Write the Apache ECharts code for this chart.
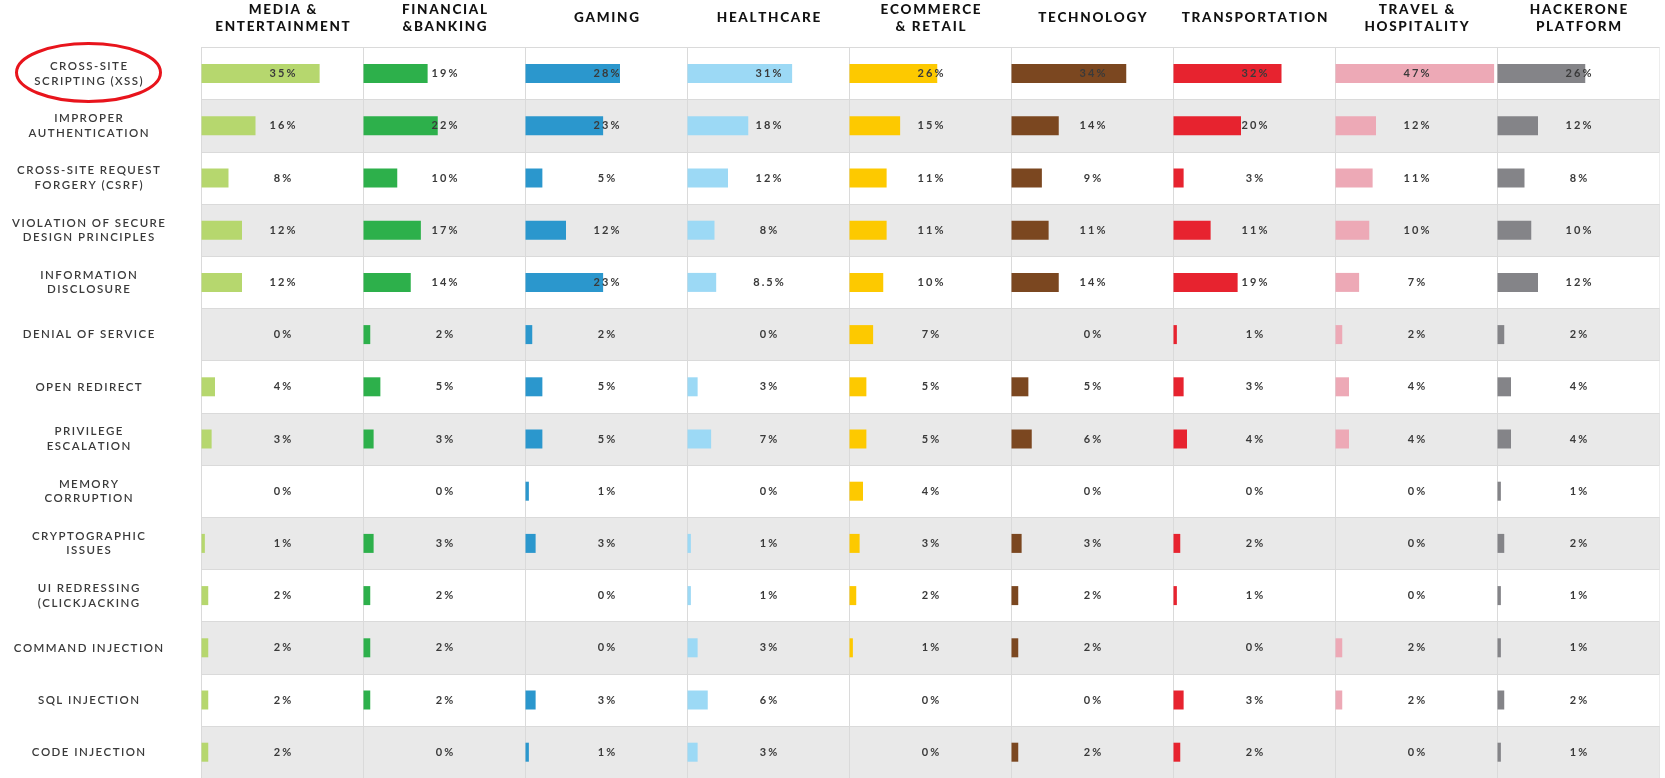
<!DOCTYPE html>
<html>
<head>
<meta charset="utf-8">
<script src="https://cdn.jsdelivr.net/npm/echarts@6/dist/echarts.min.js"></script>
<style>
  html, body { margin: 0; padding: 0; background: #fff; }
  #main { width: 1665px; height: 778px; }
</style>
</head>
<body>
<div id="main"></div>
<script>
// industries (columns) and vulnerability types (rows)
var industries = ['MEDIA &\nENTERTAINMENT', 'FINANCIAL\n&BANKING', 'GAMING', 'HEALTHCARE',
  'ECOMMERCE\n& RETAIL', 'TECHNOLOGY', 'TRANSPORTATION', 'TRAVEL &\nHOSPITALITY', 'HACKERONE\nPLATFORM'];
var vulns = ['CROSS-SITE\nSCRIPTING (XSS)', 'IMPROPER\nAUTHENTICATION', 'CROSS-SITE REQUEST\nFORGERY (CSRF)',
  'VIOLATION OF SECURE\nDESIGN PRINCIPLES', 'INFORMATION\nDISCLOSURE', 'DENIAL OF SERVICE', 'OPEN REDIRECT',
  'PRIVILEGE\nESCALATION', 'MEMORY\nCORRUPTION', 'CRYPTOGRAPHIC\nISSUES', 'UI REDRESSING\n(CLICKJACKING',
  'COMMAND INJECTION', 'SQL INJECTION', 'CODE INJECTION'];

// percent of reports per vulnerability type
var media      = [35, 16, 8, 12, 12, 0, 4, 3, 0, 1, 2, 2, 2, 2];
var financial  = [19, 22, 10, 17, 14, 2, 5, 3, 0, 3, 2, 2, 2, 0];
var gaming     = [28, 23, 5, 12, 23, 2, 5, 5, 1, 3, 0, 0, 3, 1];
var healthcare = [31, 18, 12, 8, 8.5, 0, 3, 7, 0, 1, 1, 3, 6, 3];
var ecommerce  = [26, 15, 11, 11, 10, 7, 5, 5, 4, 3, 2, 1, 0, 0];
var technology = [34, 14, 9, 11, 14, 0, 5, 6, 0, 3, 2, 2, 0, 2];
var transport  = [32, 20, 3, 11, 19, 1, 3, 4, 0, 2, 1, 0, 3, 2];
var travel     = [47, 12, 11, 10, 7, 2, 4, 4, 0, 0, 0, 2, 2, 0];
var hackerone  = [26, 12, 8, 10, 12, 2, 4, 4, 1, 2, 1, 1, 2, 1];

var columns = [media, financial, gaming, healthcare, ecommerce, technology, transport, travel, hackerone];
var colors = ['#b6d76e', '#2db04b', '#2b97cd', '#9cd9f5', '#fdc900', '#7b4720', '#e7232f', '#eda9b6', '#848488'];

var chart = echarts.init(document.getElementById('main'), null, { renderer: 'canvas' });

var left0 = 201.5, colW = 162, top0 = 47.5, rowH = 52.2;

// spread letters a bit like the original typography
function spaced(s, gap) {
  return s.split('\n').map(function (line) { return line.split('').join(gap || '\u2009'); }).join('\n');
}

var grid = [], xAxis = [], yAxis = [], series = [];
columns.forEach(function (vals, i) {
  grid.push({
    left: left0 + i * colW, top: top0, width: colW, height: rowH * vulns.length,
    outerBoundsMode: 'none',
    show: true, borderColor: '#dadada', borderWidth: 1, backgroundColor: 'transparent'
  });
  xAxis.push({
    type: 'value', gridIndex: i, min: 0, max: 48, position: 'top',
    name: spaced(industries[i]), nameLocation: 'middle', nameGap: 29.5,
    nameTextStyle: {
      fontFamily: 'Lato', fontWeight: 900, fontSize: 13.5, color: '#111',
      lineHeight: 16.5, align: 'center', verticalAlign: 'middle'
    },
    axisLine: { show: false }, axisTick: { show: false },
    axisLabel: { show: false }, splitLine: { show: false }
  });
  yAxis.push({
    type: 'category', gridIndex: i, data: vulns, inverse: true,
    axisLine: { show: true, lineStyle: { color: '#dadada' } },
    axisTick: { show: false },
    axisLabel: {
      show: i === 0, align: 'center', margin: 113,
      fontFamily: 'Lato', fontWeight: 600, fontSize: 11.5, color: '#3a3a3a', lineHeight: 14.5,
      formatter: function (v) { return spaced(v); }
    },
    splitLine: { show: true, lineStyle: { color: '#dadada' } },
    splitArea: { show: true, areaStyle: { color: ['#ffffff', '#e9e9e9'] } }
  });
  series.push({
    type: 'bar', xAxisIndex: i, yAxisIndex: i, data: vals, barWidth: 19,
    itemStyle: { color: colors[i] },
    label: {
      show: true, position: [colW / 2, '50%'], align: 'center', verticalAlign: 'middle',
      fontFamily: 'Lato', fontWeight: 700, fontSize: 11, color: '#3a3a3a',
      formatter: function (p) { return spaced(p.value + '%', '\u2009\u200A'); }
    },
    silent: true
  });
});

var option = {
  animation: false,
  grid: grid,
  xAxis: xAxis,
  yAxis: yAxis,
  series: series,
  graphic: [{
    type: 'ellipse',
    shape: { cx: 88.5, cy: 72.5, rx: 72, ry: 29 },
    style: { fill: 'none', stroke: '#e8141c', lineWidth: 3 },
    z: 100
  }]
};

chart.setOption(option);
window.addEventListener('resize', chart.resize);
</script>
</body>
</html>
